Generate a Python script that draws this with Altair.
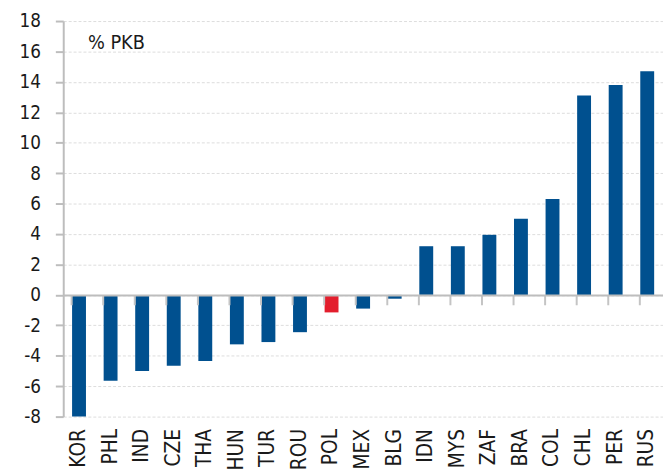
import altair as alt
import pandas as pd

kraje = ["KOR", "PHL", "IND", "CZE", "THA", "HUN", "TUR", "ROU", "POL", "MEX",
         "BLG", "IDN", "MYS", "ZAF", "BRA", "COL", "CHL", "PER", "RUS"]
wartosci = [-8.0, -5.65, -5.0, -4.65, -4.35, -3.25, -3.1, -2.45, -1.15, -0.9,
            -0.25, 3.2, 3.2, 3.95, 5.0, 6.3, 13.1, 13.8, 14.7]
wyroznione = ["POL"]
y_ticks = list(range(-8, 19, 2))

BLUE = "#00508F"
RED = "#E31E2D"
FONT = "DejaVu Sans Condensed"

df = pd.DataFrame({
    "kraj": kraje,
    "wartosc": wartosci,
    "kolor": [RED if k in wyroznione else BLUE for k in kraje],
})

W, H = 608, 401
ymin, ymax = -8, 18
zero_offset = -H * (0 - ymin) / (ymax - ymin)

xscale = alt.Scale(domain=kraje, paddingInner=0.56, paddingOuter=0.28)
yscale = alt.Scale(domain=[ymin, ymax], nice=False, zero=False)

base = alt.Chart(df)

bars = base.mark_bar().encode(
    x=alt.X("kraj:N", sort=kraje, scale=xscale,
            axis=alt.Axis(orient="bottom", title=None, labelAngle=270,
                          labelAlign="right", labelBaseline="middle",
                          labelPadding=12, ticks=False, domain=False, grid=False,
                          labelOverlap=False,
                          labelFontSize=21, labelFont=FONT, labelColor="#1a1a1a")),
    y=alt.Y("wartosc:Q", scale=yscale,
            axis=alt.Axis(values=y_ticks, title=None, grid=True,
                          gridDash=[3, 2], gridColor="#dcdcdc", gridWidth=1,
                          domainColor="#bdbdbd", domainWidth=2,
                          tickColor="#bdbdbd", tickWidth=2, tickSize=8,
                          labelOverlap=False, labelExpr="'' + datum.value",
                          labelPadding=15, labelFontSize=19, labelFont=FONT,
                          labelColor="#1a1a1a")),
    color=alt.Color("kolor:N", scale=None, legend=None),
)

zero_axis = base.mark_tick(opacity=0).encode(
    x=alt.X("kraj:N", sort=kraje, scale=xscale,
            axis=alt.Axis(orient="bottom", title=None, labels=False,
                          offset=zero_offset, bandPosition=0,
                          ticks=True, tickSize=10, tickColor="#c4c4c4", tickWidth=2,
                          domain=True, domainColor="#bdbdbd", domainWidth=2,
                          grid=False, zindex=1)),
)

label = alt.Chart(pd.DataFrame({"t": ["% PKB"]})).mark_text(
    align="left", baseline="middle", fontSize=20, font=FONT, color="#1a1a1a"
).encode(x=alt.value(25), y=alt.value(22), text="t:N")

chart = alt.layer(bars, zero_axis, label).resolve_axis(x="independent").properties(
    width=W, height=H,
    autosize=alt.AutoSizeParams(type="none"),
    padding={"left": 56, "top": 10, "right": 0, "bottom": 60},
).configure_view(stroke=None)

chart.save("out.html", embed_options={"renderer": "svg", "actions": False})
